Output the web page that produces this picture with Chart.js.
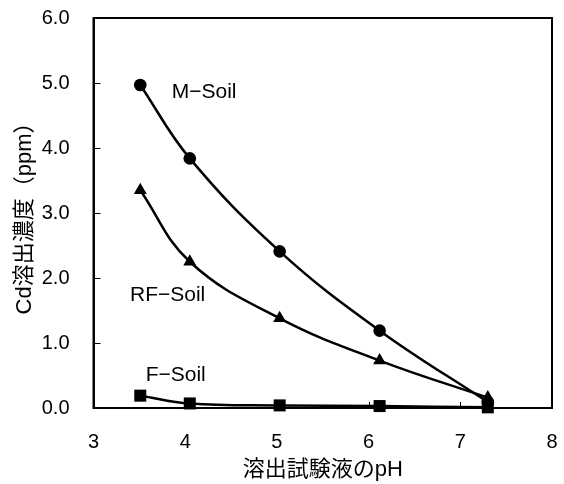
<!DOCTYPE html>
<html>
<head>
<meta charset="utf-8">
<script src="https://cdn.jsdelivr.net/npm/chart.js@4.4.1/dist/chart.umd.min.js"></script>
<style>
html,body{margin:0;padding:0;background:#fff;}
#wrap{width:564px;height:484px;position:relative;}
</style>
</head>
<body>
<div id="wrap"><canvas id="c" width="564" height="484"></canvas></div>
<script>
// pH of the leaching solution
const phValues = [3.51, 4.05, 5.03, 6.12, 7.30];
// Cd concentration (ppm)
const mSoil  = [4.97, 3.84, 2.41, 1.19, 0.09];
const rfSoil = [3.35, 2.25, 1.38, 0.73, 0.16];
const fSoil  = [0.19, 0.07, 0.04, 0.03, 0.01];
const xTickLabels = ['3', '4', '5', '6', '7', '8'];
const yTickLabels = ['0.0', '1.0', '2.0', '3.0', '4.0', '5.0', '6.0'];
const seriesNames = ['M\u2212Soil', 'RF\u2212Soil', 'F\u2212Soil'];
// label anchors in data units (pH, ppm)
const labelX = [3.853, 3.398, 3.569];
const labelY = [4.86, 1.73, 0.51];

const FONT = "'Liberation Sans', 'Noto Sans CJK JP', Arial, sans-serif";

function pts(ys){ return phValues.map((x,i)=>({x:x, y:ys[i]})); }

function ds(name, ys, style, r){
  return {
    label: name, data: pts(ys), showLine: true,
    borderColor: '#000', backgroundColor: '#000',
    borderWidth: 2.5, tension: 0.4,
    pointStyle: style, pointRadius: r, pointHoverRadius: r,
    pointBorderWidth: 0, pointBackgroundColor: '#000', clip: false
  };
}

function noPad(s){ s.paddingTop = 0; s.paddingBottom = 0; s.paddingLeft = 0; s.paddingRight = 0; }

const framePlugin = {
  id: 'frame',
  afterDraw(chart){
    const ctx = chart.ctx, a = chart.chartArea;
    const xs = chart.scales.x, ys = chart.scales.y;
    ctx.save();
    ctx.strokeStyle = '#000';
    ctx.lineWidth = 2;
    ctx.strokeRect(a.left, a.top, a.right - a.left, a.bottom - a.top);
    ctx.lineWidth = 1;
    // inner tick marks
    xs.ticks.forEach(t => {
      const px = Math.round(xs.getPixelForValue(t.value)) + 0.5;
      ctx.beginPath(); ctx.moveTo(px, a.bottom); ctx.lineTo(px, a.bottom - 6); ctx.stroke();
    });
    ys.ticks.forEach(t => {
      const py = Math.round(ys.getPixelForValue(t.value)) + 0.5;
      ctx.beginPath(); ctx.moveTo(a.left, py); ctx.lineTo(a.left + 7, py); ctx.stroke();
    });
    // series labels
    ctx.fillStyle = '#000';
    ctx.font = "21px " + FONT;
    ctx.textAlign = 'left';
    ctx.textBaseline = 'middle';
    seriesNames.forEach((n,i) => {
      ctx.fillText(n, xs.getPixelForValue(labelX[i]), ys.getPixelForValue(labelY[i]));
    });
    ctx.restore();
  }
};

new Chart(document.getElementById('c'), {
  type: 'scatter',
  data: {
    datasets: [
      ds(seriesNames[0], mSoil, 'circle', 6.3),
      ds(seriesNames[1], rfSoil, 'triangle', 7.5),
      ds(seriesNames[2], fSoil, 'rect', 8.5)
    ]
  },
  options: {
    responsive: false,
    animation: false,
    devicePixelRatio: 1,
    layout: { padding: { left: 0, right: 12, top: 18, bottom: 0 } },
    plugins: { legend: { display: false }, tooltip: { enabled: false } },
    scales: {
      x: {
        type: 'linear', min: 3, max: 8,
        afterFit(s){ s.height = 76; noPad(s); },
        afterBuildTicks(s){ s.ticks = xTickLabels.map(v => ({value: Number(v)})); },
        grid: { display: false, drawTicks: false },
        border: { display: true, color: '#000', width: 2 },
        ticks: {
          padding: 22, color: '#000', font: { size: 20, family: FONT },
          callback: (v, i) => xTickLabels[i]
        },
        title: {
          display: true, text: '溶出試験液のpH', color: '#000',
          font: { size: 22, family: FONT }, padding: { top: 0, bottom: 1 }
        }
      },
      y: {
        type: 'linear', min: 0, max: 6,
        afterFit(s){ s.width = 93.5; noPad(s); },
        afterBuildTicks(s){ s.ticks = yTickLabels.map(v => ({value: Number(v)})); },
        grid: { display: false, drawTicks: false },
        border: { display: true, color: '#000', width: 2 },
        ticks: {
          padding: 24, color: '#000', font: { size: 20, family: FONT },
          callback: (v, i) => yTickLabels[i]
        },
        title: {
          display: true, text: 'Cd溶出濃度（ppm）', color: '#000',
          font: { size: 22, family: FONT }, padding: { top: 12, bottom: 0 }
        }
      }
    }
  },
  plugins: [framePlugin]
});
</script>
</body>
</html>
